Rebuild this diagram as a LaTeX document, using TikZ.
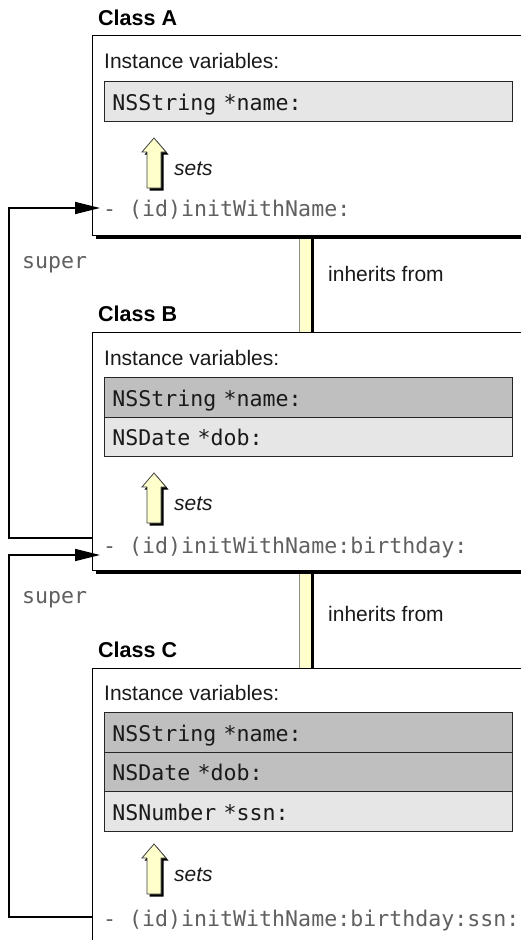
\documentclass[tikz,border=0pt]{standalone}
\usepackage{fontspec}
\setmainfont{Liberation Sans}
\setmonofont{DejaVu Sans Mono}
\usetikzlibrary{arrows.meta,shadows}
\definecolor{rowlight}{HTML}{E6E6E6}
\definecolor{rowdark}{HTML}{BFBFBF}
\definecolor{pale}{HTML}{FFFFCC}
\definecolor{methgray}{HTML}{606060}
\definecolor{ink}{HTML}{1A1A1A}
\begin{document}
\begin{tikzpicture}[x=1pt,y=-1pt,
  txt/.style={font=\fontsize{21}{25}\selectfont, inner sep=0, anchor=base west, text=ink},
  classlbl/.style={txt, font=\fontsize{21.5}{25}\selectfont\bfseries, text=black},
  setslbl/.style={txt, font=\fontsize{21}{25}\selectfont\itshape},
  monolbl/.style={txt, font=\fontsize{21.6}{25}\selectfont\ttfamily, text=methgray},
  classbox/.style={draw=black, line width=1.1, fill=white, anchor=north west,
    minimum width=460, inner sep=0,
    drop shadow={shadow xshift=3pt, shadow yshift=-3pt, fill=black, opacity=1}},
  row/.style={draw=black!85, line width=0.9, anchor=north west, minimum width=408,
    inner xsep=8, inner ysep=0, text width=392, align=left, text height=18, text depth=0,
    font=\fontsize{21.6}{25}\selectfont\ttfamily, text=ink},
  inhbar/.style={fill=pale, draw=none, inner sep=0, anchor=north west, minimum width=15},
  superline/.style={draw=black, line width=1.5, -{Triangle[length=25pt,width=12pt]}},
  setsarrow/.pic={
    \fill[black, shift={(2.5,2.5)}] (0,0) -- (12,14) -- (7,14) -- (7,50) -- (-7,50) -- (-7,14) -- (-12,14) -- cycle;
    \filldraw[fill=pale, draw=black!75, line width=0.8] (0,0) -- (12,14) -- (7,14) -- (7,50) -- (-7,50) -- (-7,14) -- (-12,14) -- cycle;
  }
]
\clip (0,0) rectangle (521,940);
\fill[white] (0,0) rectangle (521,940);

% inheritance bars
\node[inhbar, minimum height=97] (barAB) at (299,236) {};
\draw[black!45, line width=0.8] (barAB.north west) -- (barAB.south west);
\draw[line width=3] ([xshift=-1.5]barAB.north east) -- ([xshift=-1.5]barAB.south east);
\node[inhbar, minimum height=98] (barBC) at (299,571) {};
\draw[black!45, line width=0.8] (barBC.north west) -- (barBC.south west);
\draw[line width=3] ([xshift=-1.5]barBC.north east) -- ([xshift=-1.5]barBC.south east);

% class A
\node[classlbl] (clsA) at (98,25) {Class A};
\node[classbox, minimum height=200] (boxA) at (92,35) {};
\node[txt] (ivA) at (104,68) {Instance variables:};
\node[row, fill=rowlight, minimum height=40] (rowA1) at (104,81) {NSString *name:};
\pic (arrA) at (154,138) {setsarrow};
\node[setslbl] (setsA) at (174,175) {sets};
\node[monolbl] (methA) at (103,216.5) {- (id)initWithName:};
\coordinate (inA) at (100,208);

% class B
\node[classlbl] (clsB) at (98,321.5) {Class B};
\node[classbox, minimum height=238] (boxB) at (92,332) {};
\node[txt] (ivB) at (104,365) {Instance variables:};
\node[row, fill=rowdark, minimum height=40] (rowB1) at (104,377) {NSString *name:};
\node[row, fill=rowlight, minimum height=39] (rowB2) at (104,417) {NSDate *dob:};
\pic (arrB) at (154,473) {setsarrow};
\node[setslbl] (setsB) at (174,510) {sets};
\node[monolbl] (methB) at (103,553) {- (id)initWithName:birthday:};
\coordinate (outB) at (92,538);
\coordinate (inB) at (100,555);

% class C
\node[classlbl] (clsC) at (98,657) {Class C};
\node[classbox, minimum height=320] (boxC) at (92,668) {};
\node[txt] (ivC) at (104,700) {Instance variables:};
\node[row, fill=rowdark, minimum height=39.5] (rowC1) at (104,712) {NSString *name:};
\node[row, fill=rowdark, minimum height=39.5] (rowC2) at (104,751.5) {NSDate *dob:};
\node[row, fill=rowlight, minimum height=39.5] (rowC3) at (104,791) {NSNumber *ssn:};
\pic (arrC) at (154,844) {setsarrow};
\node[setslbl] (setsC) at (174,881) {sets};
\node[monolbl] (methC) at (103,926.5) {- (id)initWithName:birthday:ssn:};
\coordinate (outC) at (92,917);

% labels between boxes
\node[monolbl] (superA) at (22,268) {super};
\node[txt] (inhA) at (328,281.5) {inherits from};
\node[monolbl] (superB) at (22,603) {super};
\node[txt] (inhB) at (328,621.5) {inherits from};

% super connectors
\draw[superline] (outB) -- ++(-83,0) |- (inA);
\draw[superline] (outC) -- ++(-83,0) |- (inB);
\end{tikzpicture}
\end{document}
